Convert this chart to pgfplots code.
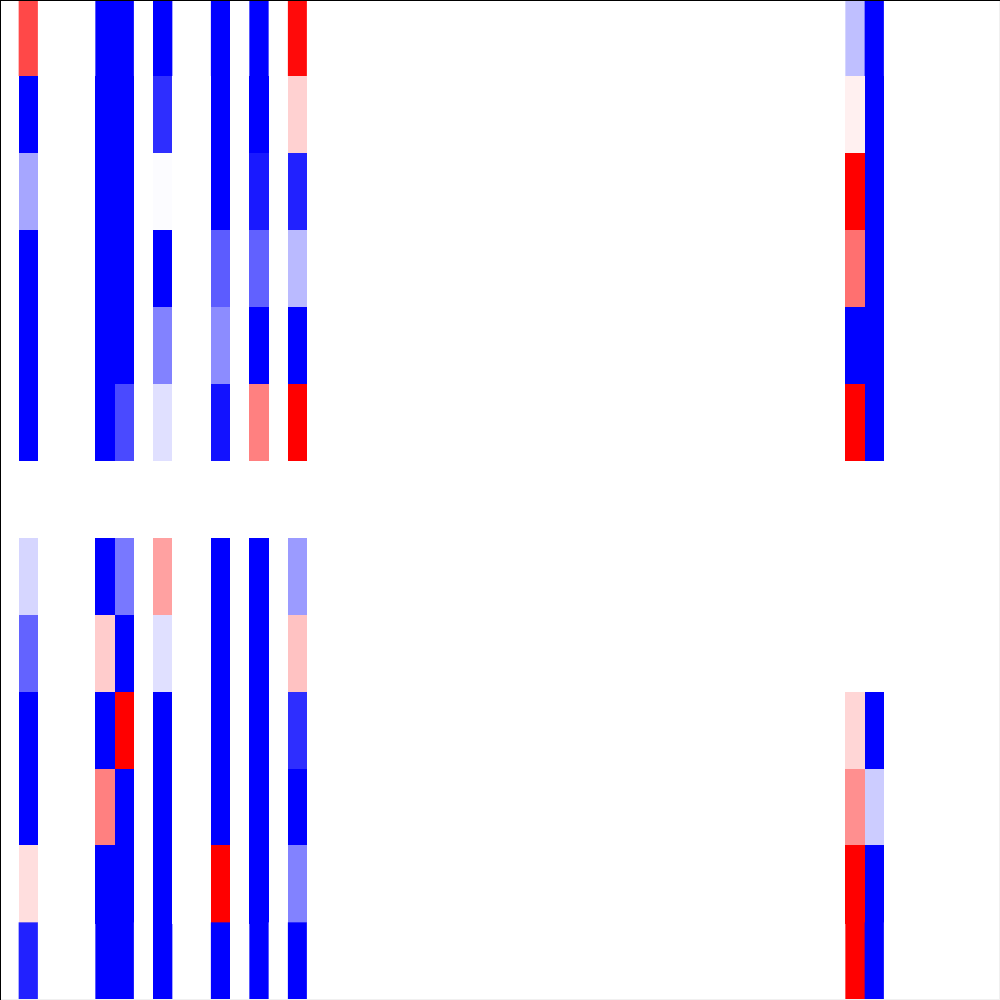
\documentclass[border=0pt]{standalone}
\usepackage{pgfplots}
\pgfplotsset{compat=1.18}
\usepackage{pgfplotstable}
\pgfplotstableread{
x y z
0 0 0
1 0 0.72
2 0 0
4 0 0
5 0 -1
6 0 -1
7 0 0
8 0 -1
9 0 0
10 0 0
11 0 -1
12 0 0
13 0 -1
14 0 0
15 0 0.96
16 0 0
43 0 0
44 0 -0.25
45 0 -1
46 0 0
0 1 0
1 1 -1
2 1 0
4 1 0
5 1 -1
6 1 -1
7 1 0
8 1 -0.82
9 1 0
10 1 0
11 1 -1
12 1 0
13 1 -1
14 1 0
15 1 0.18
16 1 0
43 1 0
44 1 0.06
45 1 -1
46 1 0
0 2 0
1 2 -0.35
2 2 0
4 2 0
5 2 -1
6 2 -1
7 2 0
8 2 -0.01
9 2 0
10 2 0
11 2 -1
12 2 0
13 2 -0.9
14 2 0
15 2 -0.87
16 2 0
43 2 0
44 2 1
45 2 -1
46 2 0
0 3 0
1 3 -1
2 3 0
4 3 0
5 3 -1
6 3 -1
7 3 0
8 3 -1
9 3 0
10 3 0
11 3 -0.64
12 3 0
13 3 -0.62
14 3 0
15 3 -0.27
16 3 0
43 3 0
44 3 0.56
45 3 -1
46 3 0
0 4 0
1 4 -1
2 4 0
4 4 0
5 4 -1
6 4 -1
7 4 0
8 4 -0.49
9 4 0
10 4 0
11 4 -0.45
12 4 0
13 4 -1
14 4 0
15 4 -1
16 4 0
43 4 0
44 4 -1
45 4 -1
46 4 0
0 5 0
1 5 -1
2 5 0
4 5 0
5 5 -1
6 5 -0.71
7 5 0
8 5 -0.12
9 5 0
10 5 0
11 5 -0.93
12 5 0
13 5 0.5
14 5 0
15 5 1
16 5 0
43 5 0
44 5 1
45 5 -1
46 5 0
0 6 0
1 6 0
2 6 0
4 6 0
5 6 0
6 6 0
7 6 0
8 6 0
9 6 0
10 6 0
11 6 0
12 6 0
13 6 0
14 6 0
15 6 0
16 6 0
43 6 0
44 6 0
45 6 0
46 6 0
0 7 0
1 7 -0.16
2 7 0
4 7 0
5 7 -1
6 7 -0.53
7 7 0
8 7 0.37
9 7 0
10 7 0
11 7 -1
12 7 0
13 7 -1
14 7 0
15 7 -0.39
16 7 0
43 7 0
44 7 0
45 7 0
46 7 0
0 8 0
1 8 -0.61
2 8 0
4 8 0
5 8 0.2
6 8 -1
7 8 0
8 8 -0.12
9 8 0
10 8 0
11 8 -1
12 8 0
13 8 -1
14 8 0
15 8 0.24
16 8 0
43 8 0
44 8 0
45 8 0
46 8 0
0 9 0
1 9 -1
2 9 0
4 9 0
5 9 -1
6 9 1
7 9 0
8 9 -1
9 9 0
10 9 0
11 9 -1
12 9 0
13 9 -1
14 9 0
15 9 -0.82
16 9 0
43 9 0
44 9 0.16
45 9 -1
46 9 0
0 10 0
1 10 -1
2 10 0
4 10 0
5 10 0.5
6 10 -1
7 10 0
8 10 -1
9 10 0
10 10 0
11 10 -1
12 10 0
13 10 -1
14 10 0
15 10 -1
16 10 0
43 10 0
44 10 0.44
45 10 -0.2
46 10 0
0 11 0
1 11 0.13
2 11 0
4 11 0
5 11 -1
6 11 -1
7 11 0
8 11 -1
9 11 0
10 11 0
11 11 1
12 11 0
13 11 -1
14 11 0
15 11 -0.49
16 11 0
43 11 0
44 11 1
45 11 -1
46 11 0
0 12 0
1 12 -0.87
2 12 0
4 12 0
5 12 -1
6 12 -1
7 12 0
8 12 -1
9 12 0
10 12 0
11 12 -1
12 12 0
13 12 -1
14 12 0
15 12 -1
16 12 0
43 12 0
44 12 1
45 12 -1
46 12 0
}\heat
\begin{document}
\begin{tikzpicture}
\begin{axis}[
  scale only axis, width=10cm, height=10cm,
  xmin=-0.5, xmax=51.5, ymin=-0.5, ymax=12.5,
  y dir=reverse,
  axis lines=none, ticks=none,
  colormap={bwr}{rgb255=(0,0,255) rgb255=(255,255,255) rgb255=(255,0,0)},
  point meta min=-1, point meta max=1,
  clip=true,
]
\addplot[matrix plot*, mesh/cols=20, point meta=explicit] table[x=x, y=y, meta=z] {\heat};
\draw[gray!12, line width=0.5pt] (axis cs:51.5,-0.5) -- (axis cs:51.5,12.5) -- (axis cs:-0.5,12.5);
\draw[black, line width=0.7pt] (axis cs:-0.5,12.5) -- (axis cs:-0.5,-0.5) -- (axis cs:51.5,-0.5);
\end{axis}
\end{tikzpicture}
\end{document}
